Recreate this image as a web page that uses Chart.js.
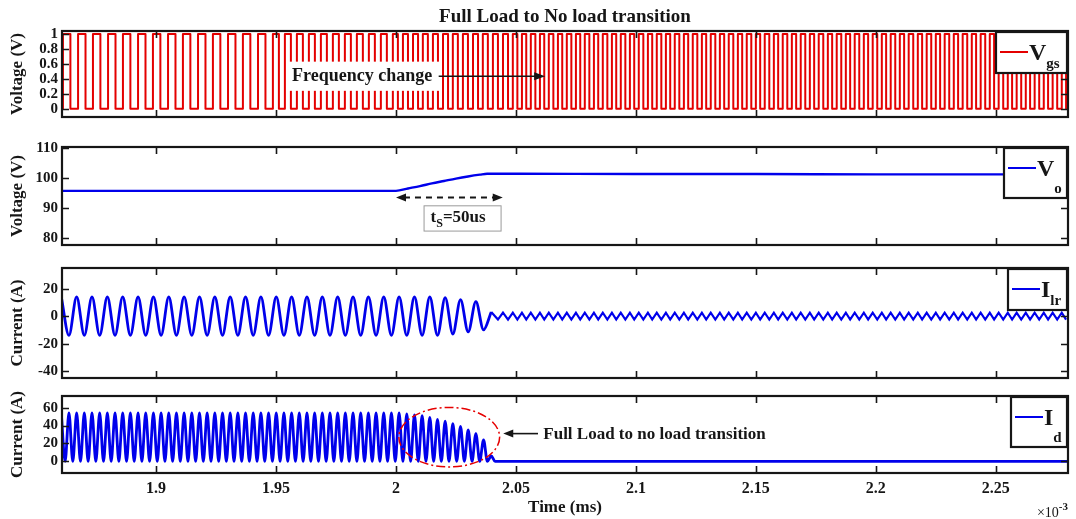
<!DOCTYPE html>
<html>
<head>
<meta charset="utf-8">
<script src="https://cdn.jsdelivr.net/npm/chart.js@4.4.1/dist/chart.umd.min.js"></script>
<style>
  html, body { margin: 0; padding: 0; background: #ffffff; }
  #fig { position: relative; width: 1076px; height: 519px; overflow: hidden; background: #ffffff; }
  #fig canvas { position: absolute; left: 0; }
</style>
</head>
<body>
<div id="fig">
  <canvas id="pVgs" width="1076" height="130" style="top:0px"></canvas>
  <canvas id="pVo"  width="1076" height="124" style="top:134px"></canvas>
  <canvas id="pIlr" width="1076" height="136" style="top:255px"></canvas>
  <canvas id="pId"  width="1076" height="136" style="top:383px"></canvas>
</div>
<script>
// ---- tick labels -------------------------------------------------------
const timeTicks = [1.9, 1.95, 2, 2.05, 2.1, 2.15, 2.2, 2.25];   // ms
const vgsTicks  = [0, 0.2, 0.4, 0.6, 0.8, 1];
const voTicks   = [80, 90, 100, 110];
const ilrTicks  = [-40, -20, 0, 20];
const idTicks   = [0, 20, 40, 60];

// ---- gate drive: switching instants (ms); the gate starts low and toggles at each one
const vgsEdges = [
  1.8612, 1.8643, 1.8675, 1.8706, 1.8737, 1.8768, 1.8800, 1.8831, 1.8862, 1.8893,
  1.8925, 1.8956, 1.8987, 1.9018, 1.9050, 1.9081, 1.9112, 1.9143, 1.9175, 1.9206,
  1.9237, 1.9268, 1.9300, 1.9331, 1.9362, 1.9393, 1.9425, 1.9456, 1.9487,
  1.9512, 1.9537, 1.9562, 1.9587, 1.9612, 1.9637, 1.9662, 1.9687, 1.9712, 1.9737,
  1.9762, 1.9787, 1.9812, 1.9837, 1.9862, 1.9887, 1.9912, 1.9937, 1.9962, 1.9987,
  2.0008, 2.0029, 2.0050, 2.0071, 2.0092, 2.0112, 2.0133, 2.0154, 2.0175, 2.0196,
  2.0217, 2.0237, 2.0258, 2.0279, 2.0300, 2.0321, 2.0342, 2.0362, 2.0383, 2.0404,
  2.0425, 2.0446, 2.0467, 2.0487,
  2.0506, 2.0525, 2.0543, 2.0562, 2.0581, 2.0600, 2.0618, 2.0637,
  2.0656, 2.0675, 2.0693, 2.0712, 2.0731, 2.0750, 2.0768, 2.0787,
  2.0806, 2.0825, 2.0843, 2.0862, 2.0881, 2.0900, 2.0918, 2.0937,
  2.0956, 2.0975, 2.0993, 2.1012, 2.1031, 2.1050, 2.1068, 2.1087,
  2.1106, 2.1125, 2.1143, 2.1162, 2.1181, 2.1200, 2.1218, 2.1237,
  2.1256, 2.1275, 2.1293, 2.1312, 2.1331, 2.1350, 2.1368, 2.1387,
  2.1406, 2.1425, 2.1443, 2.1462, 2.1481, 2.1500, 2.1518, 2.1537,
  2.1556, 2.1575, 2.1593, 2.1612, 2.1631, 2.1650, 2.1668, 2.1687,
  2.1706, 2.1725, 2.1743, 2.1762, 2.1781, 2.1800, 2.1818, 2.1837,
  2.1856, 2.1875, 2.1893, 2.1912, 2.1931, 2.1950, 2.1968, 2.1987,
  2.2006, 2.2025, 2.2043, 2.2062, 2.2081, 2.2100, 2.2118, 2.2137,
  2.2156, 2.2175, 2.2193, 2.2212, 2.2231, 2.2250, 2.2268, 2.2287,
  2.2306, 2.2325, 2.2343, 2.2362, 2.2381, 2.2400, 2.2418, 2.2437,
  2.2456, 2.2475, 2.2493, 2.2512, 2.2531, 2.2550, 2.2568, 2.2587,
  2.2606, 2.2625, 2.2643, 2.2662, 2.2681, 2.2700, 2.2718, 2.2737,
  2.2756, 2.2775, 2.2793
];

// ---- output voltage (V)
const voT = [1.86, 1.90, 1.95, 2.000, 2.005, 2.010, 2.015, 2.020, 2.025, 2.030, 2.035, 2.038, 2.05, 2.10, 2.15, 2.20, 2.25, 2.281];
const voV = [95.8, 95.8, 95.8, 95.8, 96.6, 97.4, 98.3, 99.1, 99.9, 100.6, 101.2, 101.5, 101.5, 101.4, 101.4, 101.3, 101.3, 101.3];

// ---- resonant current: crest/trough instants (ms) and values (A) through the load step
const ilrT = [
  1.8605, 1.8637, 1.8669, 1.8701, 1.8733, 1.8765, 1.8797, 1.8829, 1.8861, 1.8893,
  1.8925, 1.8957, 1.8989, 1.9021, 1.9053, 1.9085, 1.9117, 1.9149, 1.9181, 1.9213,
  1.9245, 1.9277, 1.9309, 1.9341, 1.9373, 1.9405, 1.9437, 1.9469, 1.9501, 1.9533,
  1.9565, 1.9597, 1.9629, 1.9661, 1.9693, 1.9725, 1.9757, 1.9789, 1.9821, 1.9853,
  1.9885, 1.9917, 1.9949, 1.9981, 2.0013, 2.0045, 2.0077, 2.0109, 2.0141, 2.0173,
  2.0205, 2.0237, 2.0269, 2.0301, 2.0333, 2.0365, 2.0397
];
const ilrV = [
  14, -14, 14, -14, 14, -14, 14, -14, 14, -14,
  14, -14, 14, -14, 14, -14, 14, -14, 14, -14,
  14, -14, 14, -14, 14, -14, 14, -14, 14, -14,
  14, -14, 14, -14, 14, -14, 14, -14, 14, -14,
  14, -14, 14, -14, 14, -14, 14, -14, 14, -14,
  13.5, -13, 12, -11.5, 10.5, -10, 3
];
// no-load magnetising ripple: trough and crest (A), turning at each gate edge
const ilrRipple = [-2.5, 2.5];

// ---- rectifier current: hump crests (A) at the resonant crests, valleys (ms) between them
const idPeakV = [
  54, 54, 54, 54, 54, 54, 54, 54, 54, 54, 54,
  54, 54, 54, 54, 54, 54, 54, 54, 54, 54, 54,
  54, 54, 54, 54, 54, 54, 54, 54, 54, 54, 54,
  54, 54, 54, 54, 54, 54, 54, 54, 54, 54, 54,
  54, 53, 52, 51, 49, 47, 45, 42, 39, 35, 31, 24, 6
];
const idValleyT = [
  1.8621, 1.8653, 1.8685, 1.8717, 1.8749, 1.8781, 1.8813, 1.8845, 1.8877, 1.8909,
  1.8941, 1.8973, 1.9005, 1.9037, 1.9069, 1.9101, 1.9133, 1.9165, 1.9197, 1.9229,
  1.9261, 1.9293, 1.9325, 1.9357, 1.9389, 1.9421, 1.9453, 1.9485, 1.9517, 1.9549,
  1.9581, 1.9613, 1.9645, 1.9677, 1.9709, 1.9741, 1.9773, 1.9805, 1.9837, 1.9869,
  1.9901, 1.9933, 1.9965, 1.9997, 2.0029, 2.0061, 2.0093, 2.0125, 2.0157, 2.0189,
  2.0221, 2.0253, 2.0285, 2.0317, 2.0349, 2.0381, 2.0413
];

// ---- figure settings -----------------------------------------------------
const T0 = 1.8608, T1 = 2.2801;
const SERIF = '"Liberation Serif", "Times New Roman", serif';
const INK = '#161616';
const RED = 'rgb(228,0,0)';
const BLUE = 'rgb(0,0,235)';
const fmt = v => String(+Number(v).toFixed(3));

// ---- series built from the arrays above ----------------------------------
const vgsData = [{ x: T0, y: 0 }];
let gate = 0;
vgsEdges.forEach(t => { gate = 1 - gate; vgsData.push({ x: t, y: gate }); });
vgsData.push({ x: T1, y: gate });

const voData = voT.map((t, i) => ({ x: t, y: voV[i] }));

const ilrData = ilrT.map((t, i) => ({ x: t, y: ilrV[i] }));
const lastCrest = ilrData[ilrData.length - 1];
const ilrRippleData = [lastCrest].concat(
  vgsEdges.filter(t => t > lastCrest.x + 0.0015).map((t, i) => ({ x: t, y: ilrRipple[i % 2] }))
);

const idData = [];
idPeakV.forEach((v, i) => {
  idData.push({ x: ilrT[i], y: v });
  idData.push({ x: idValleyT[i], y: 0 });
});
idData.push({ x: T1, y: 0 });

// ---- drawing helpers -------------------------------------------------------
function drawFrame(chart, yTicks) {
  const { ctx, chartArea: a, scales: { x, y } } = chart;
  ctx.save();
  ctx.strokeStyle = INK;
  ctx.lineWidth = 1.6;
  ctx.beginPath();
  timeTicks.forEach(v => {
    const px = Math.round(x.getPixelForValue(v)) + 0.5;
    ctx.moveTo(px, a.bottom); ctx.lineTo(px, a.bottom - 7);
    ctx.moveTo(px, a.top);    ctx.lineTo(px, a.top + 7);
  });
  yTicks.forEach(v => {
    const py = Math.round(y.getPixelForValue(v)) + 0.5;
    ctx.moveTo(a.left, py);  ctx.lineTo(a.left + 7, py);
    ctx.moveTo(a.right, py); ctx.lineTo(a.right - 7, py);
  });
  ctx.stroke();
  ctx.lineWidth = 2.2;
  ctx.strokeRect(a.left, a.top, a.right - a.left, a.bottom - a.top);
  ctx.restore();
}

function drawKey(chart, w, h, color, main, sub) {
  const { ctx, chartArea: a } = chart;
  const L = a.right - w - 1, T = a.top + 1;
  ctx.save();
  ctx.fillStyle = '#ffffff';
  ctx.fillRect(L, T, w, h);
  ctx.lineWidth = 2.2;
  ctx.strokeStyle = INK;
  ctx.strokeRect(L, T, w, h);
  ctx.strokeStyle = color;
  ctx.lineWidth = 2;
  ctx.beginPath(); ctx.moveTo(L + 4, T + 20); ctx.lineTo(L + 32, T + 20); ctx.stroke();
  ctx.fillStyle = INK;
  ctx.textBaseline = 'alphabetic';
  ctx.font = 'bold 24px ' + SERIF;
  ctx.fillText(main, L + 33, T + 28);
  const mw = ctx.measureText(main).width;
  ctx.font = 'bold 15px ' + SERIF;
  ctx.fillText(sub, L + 33 + mw, T + h - 5);
  ctx.restore();
}

function head(ctx, x, y, dir, len, half) {
  ctx.beginPath();
  ctx.moveTo(x, y);
  ctx.lineTo(x - dir * len, y - half);
  ctx.lineTo(x - dir * len, y + half);
  ctx.closePath();
  ctx.fill();
}

const framePlugin = {
  id: 'frame',
  afterDatasetsDraw(chart, args, opts) {
    drawFrame(chart, opts.yTicks);
    if (opts.notes) opts.notes(chart);
    drawKey(chart, opts.key.w, opts.key.h, opts.key.color, opts.key.main, opts.key.sub);
  }
};

// ---- panel factory --------------------------------------------------------------
function panel(id, cfg) {
  return new Chart(document.getElementById(id), {
    type: 'line',
    data: { datasets: cfg.datasets },
    options: {
      responsive: false,
      animation: false,
      events: [],
      parsing: false,
      layout: { padding: { top: cfg.padTop, right: 8, bottom: cfg.padBottom, left: 0 } },
      plugins: {
        legend: { display: false },
        tooltip: { enabled: false },
        title: cfg.title || { display: false },
        frame: { yTicks: cfg.yTicks, key: cfg.key, notes: cfg.notes }
      },
      elements: { point: { radius: 0 } },
      scales: {
        x: {
          type: 'linear', min: T0, max: T1,
          afterBuildTicks: s => { s.ticks = timeTicks.map(v => ({ value: v })); },
          afterFit: s => { s.height = cfg.xHeight; },
          grid: { display: false, drawTicks: false },
          border: { display: false },
          ticks: {
            display: cfg.showX, padding: 6, autoSkip: false, maxRotation: 0,
            color: INK, font: { family: SERIF, size: 16, weight: 'bold' },
            callback: v => fmt(v)
          },
          title: cfg.showX ? {
            display: true, text: 'Time (ms)', color: INK,
            font: { family: SERIF, size: 17, weight: 'bold' },
            padding: { top: 0, bottom: 1 }
          } : { display: false }
        },
        y: {
          type: 'linear', min: cfg.yMin, max: cfg.yMax,
          afterBuildTicks: s => { s.ticks = cfg.yTicks.map(v => ({ value: v })); },
          afterFit: s => { s.width = 62; },
          grid: { display: false, drawTicks: false },
          border: { display: false },
          ticks: {
            padding: 4, autoSkip: false, color: INK,
            font: { family: SERIF, size: 15, weight: 'bold' },
            callback: v => fmt(v)
          },
          title: {
            display: true, text: cfg.yTitle, color: INK,
            font: { family: SERIF, size: 17, weight: 'bold' },
            padding: { top: 7, bottom: 0 }
          }
        }
      }
    },
    plugins: [framePlugin]
  });
}

// ---- gate voltage ------------------------------------------------------------
panel('pVgs', {
  padTop: 0, padBottom: 8, xHeight: 0, showX: false,
  title: {
    display: true, text: 'Full Load to No load transition', fullSize: false,
    color: INK, font: { family: SERIF, size: 19, weight: 'bold' },
    padding: { top: 6, bottom: 2.2 }
  },
  yMin: -0.11, yMax: 1.04, yTicks: vgsTicks, yTitle: 'Voltage (V)',
  key: { w: 71, h: 41, color: RED, main: 'V', sub: 'gs' },
  datasets: [{ data: vgsData, borderColor: RED, borderWidth: 2, stepped: true, borderJoinStyle: 'round' }],
  notes(chart) {
    const { ctx, scales: { x, y } } = chart;
    ctx.save();
    const bx0 = x.getPixelForValue(1.9546), bx1 = x.getPixelForValue(2.0182);
    const by0 = y.getPixelForValue(0.63), by1 = y.getPixelForValue(0.24);
    ctx.fillStyle = '#ffffff';
    ctx.fillRect(bx0, by0, bx1 - bx0, by1 - by0);
    ctx.fillStyle = INK;
    ctx.font = 'bold 18px ' + SERIF;
    ctx.textBaseline = 'alphabetic';
    ctx.fillText('Frequency change', x.getPixelForValue(1.9567), y.getPixelForValue(0.37));
    const ay = y.getPixelForValue(0.434);
    const ax0 = x.getPixelForValue(2.0178), ax1 = x.getPixelForValue(2.0622);
    ctx.strokeStyle = INK; ctx.lineWidth = 1.6;
    ctx.beginPath(); ctx.moveTo(ax0, ay); ctx.lineTo(ax1 - 6, ay); ctx.stroke();
    head(ctx, ax1, ay, 1, 11, 4);
    ctx.restore();
  }
});

// ---- output voltage --------------------------------------------------------------
panel('pVo', {
  padTop: 10, padBottom: 8, xHeight: 0, showX: false,
  yMin: 77.8, yMax: 110.4, yTicks: voTicks, yTitle: 'Voltage (V)',
  key: { w: 63, h: 50, color: BLUE, main: 'V', sub: 'o' },
  datasets: [{ data: voData, borderColor: BLUE, borderWidth: 2.4, cubicInterpolationMode: 'monotone' }],
  notes(chart) {
    const { ctx, scales: { x, y } } = chart;
    ctx.save();
    const ay = y.getPixelForValue(93.6);
    const a0 = x.getPixelForValue(2.0), a1 = x.getPixelForValue(2.0445);
    ctx.strokeStyle = INK; ctx.fillStyle = INK; ctx.lineWidth = 1.8;
    ctx.setLineDash([6, 5]);
    ctx.beginPath(); ctx.moveTo(a0 + 8, ay); ctx.lineTo(a1 - 8, ay); ctx.stroke();
    ctx.setLineDash([]);
    head(ctx, a0, ay, -1, 10, 4);
    head(ctx, a1, ay, 1, 10, 4);
    const bx0 = x.getPixelForValue(2.0115), bx1 = x.getPixelForValue(2.0436);
    const by0 = y.getPixelForValue(91.0), by1 = y.getPixelForValue(82.6);
    ctx.fillStyle = '#ffffff';
    ctx.fillRect(bx0, by0, bx1 - bx0, by1 - by0);
    ctx.strokeStyle = '#9a9a9a'; ctx.lineWidth = 1;
    ctx.strokeRect(bx0 + 0.5, by0 + 0.5, bx1 - bx0, by1 - by0);
    ctx.fillStyle = INK;
    ctx.textBaseline = 'alphabetic';
    const base = y.getPixelForValue(85.6);
    let tx = bx0 + 7;
    ctx.font = 'bold 17px ' + SERIF;
    ctx.fillText('t', tx, base);
    tx += ctx.measureText('t').width;
    ctx.font = 'bold 12px ' + SERIF;
    ctx.fillText('S', tx, base + 5);
    tx += ctx.measureText('S').width;
    ctx.font = 'bold 17px ' + SERIF;
    ctx.fillText('=50us', tx, base);
    ctx.restore();
  }
});

// ---- resonant current ----------------------------------------------------------------
panel('pIlr', {
  padTop: 10, padBottom: 8, xHeight: 0, showX: false,
  yMin: -45, yMax: 35, yTicks: ilrTicks, yTitle: 'Current (A)',
  key: { w: 59, h: 41, color: BLUE, main: 'I', sub: 'lr' },
  datasets: [
    { data: ilrData, borderColor: BLUE, borderWidth: 2.8, cubicInterpolationMode: 'monotone' },
    { data: ilrRippleData, borderColor: BLUE, borderWidth: 2.2, tension: 0 }
  ]
});

// ---- rectifier current ------------------------------------------------------------------
panel('pId', {
  padTop: 10, padBottom: 0, xHeight: 46, showX: true,
  yMin: -13, yMax: 73, yTicks: idTicks, yTitle: 'Current (A)',
  key: { w: 56, h: 50, color: BLUE, main: 'I', sub: 'd' },
  datasets: [{ data: idData, borderColor: BLUE, borderWidth: 2.8, cubicInterpolationMode: 'monotone' }],
  notes(chart) {
    const { ctx, chartArea: area, scales: { x, y } } = chart;
    ctx.save();
    const cx = x.getPixelForValue(2.0222), cy = y.getPixelForValue(27);
    const rx = (x.getPixelForValue(2.0432) - x.getPixelForValue(2.0012)) / 2;
    const ry = (y.getPixelForValue(-6) - y.getPixelForValue(60.5)) / 2;
    ctx.strokeStyle = 'rgb(230,0,0)'; ctx.lineWidth = 1.5;
    ctx.setLineDash([9, 3, 2, 3]);
    ctx.beginPath(); ctx.ellipse(cx, cy, rx, ry, 0, 0, Math.PI * 2); ctx.stroke();
    ctx.setLineDash([]);
    const ay = y.getPixelForValue(31);
    const tip = x.getPixelForValue(2.0447), tail = x.getPixelForValue(2.0592);
    ctx.strokeStyle = INK; ctx.fillStyle = INK; ctx.lineWidth = 1.6;
    ctx.beginPath(); ctx.moveTo(tail, ay); ctx.lineTo(tip + 6, ay); ctx.stroke();
    head(ctx, tip, ay, -1, 10, 4);
    ctx.font = 'bold 17px ' + SERIF;
    ctx.textBaseline = 'alphabetic';
    ctx.fillText('Full Load to no load transition', x.getPixelForValue(2.0614), y.getPixelForValue(25.5));
    // exponent of the time axis, under its right end
    ctx.font = 'bold 11px ' + SERIF;
    const ew = ctx.measureText('-3').width;
    ctx.fillText('-3', area.right - ew, area.bottom + 37);
    ctx.font = '14px ' + SERIF;
    const mw = ctx.measureText('\u00d710').width;
    ctx.fillText('\u00d710', area.right - ew - mw, area.bottom + 44);
    ctx.restore();
  }
});
</script>
</body>
</html>
